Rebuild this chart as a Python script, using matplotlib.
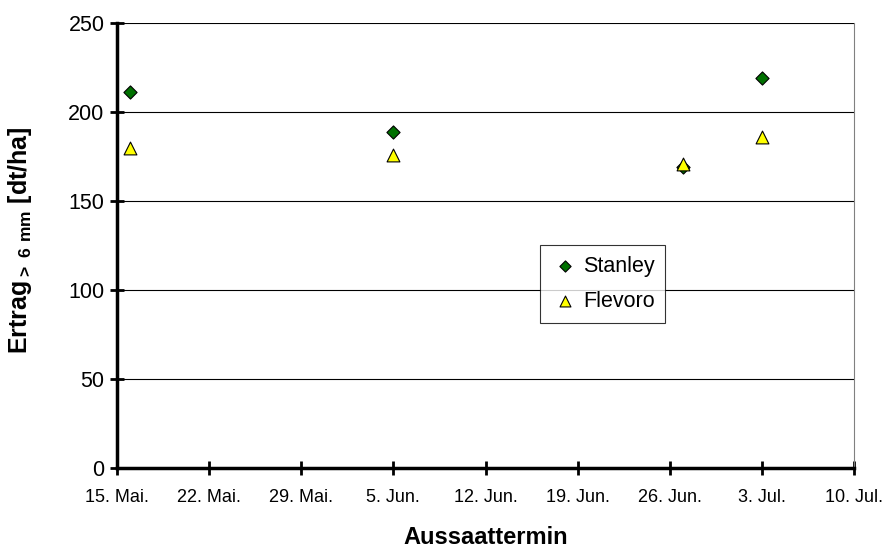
import matplotlib
matplotlib.use("Agg")
import matplotlib.pyplot as plt
import matplotlib.dates as mdates
import numpy as np

plt.rcParams['font.family'] = ['Liberation Sans', 'DejaVu Sans']
plt.rcParams['mathtext.fontset'] = 'custom'
plt.rcParams['mathtext.rm'] = 'Liberation Sans'
plt.rcParams['mathtext.bf'] = 'Liberation Sans:bold'

dates = ["2000-05-16", "2000-06-05", "2000-06-27", "2000-07-03"]
stanley = [211, 189, 169, 219]
flevoro = [180, 176, 171, 186]
tick_dates = ["2000-05-15", "2000-05-22", "2000-05-29", "2000-06-05", "2000-06-12",
              "2000-06-19", "2000-06-26", "2000-07-03", "2000-07-10"]
tick_labels = ["15. Mai.", "22. Mai.", "29. Mai.", "5. Jun.", "12. Jun.",
               "19. Jun.", "26. Jun.", "3. Jul.", "10. Jul."]
yticks = [0, 50, 100, 150, 200, 250]

x = mdates.date2num(np.array(dates, dtype="datetime64[D]"))
xt = mdates.date2num(np.array(tick_dates, dtype="datetime64[D]"))

fig = plt.figure(figsize=(8.88, 5.5), dpi=100)
ax = fig.add_axes([117/888, 1-468/550, (854-117)/888, (468-23)/550])

ax.scatter(x, stanley, marker='D', s=45, color='#007000', edgecolor='black', linewidth=0.8,
           label='Stanley', zorder=3)
ax.scatter(x, flevoro, marker='^', s=85, color='#ffff00', edgecolor='black', linewidth=0.8,
           label='Flevoro', zorder=4)

ax.set_xlim(xt[0], xt[-1])
ax.set_ylim(0, 250)
ax.set_xticks(xt)
ax.set_xticklabels(tick_labels, fontsize=13)
ax.set_yticks(yticks)
ax.set_yticklabels([str(v) for v in yticks], fontsize=15.5)
ax.yaxis.grid(True, color='black', linewidth=0.8)
ax.set_axisbelow(True)

ax.spines['right'].set_color('#808080')
ax.spines['right'].set_linewidth(0.8)
ax.spines['top'].set_visible(False)
for s in ['left', 'bottom']:
    ax.spines[s].set_linewidth(2.5)
    ax.spines[s].set_color('black')
ax.tick_params(axis='both', direction='inout', length=10, width=2, color='black')
ax.tick_params(axis='x', pad=10)
ax.tick_params(axis='y', pad=4)

ax.set_xlabel('Aussaattermin', fontsize=17, fontweight='bold')
ax.xaxis.set_label_coords(0.5, -0.13)
ax.set_ylabel(r'Ertrag$_{\mathbf{>\ 6\ mm}}$ [dt/ha]', fontsize=18, fontweight='bold')
ax.yaxis.set_label_coords(-0.112, 0.512)

leg = ax.legend(loc='upper left', bbox_to_anchor=((540-117)/737, (468-245)/445),
                fontsize=15.5, frameon=True, fancybox=False, edgecolor='black',
                handletextpad=0.2, borderpad=0.5, labelspacing=0.65, handlelength=1.3,
                markerscale=0.85, borderaxespad=0)
leg.get_frame().set_linewidth(0.8)

fig.savefig('out.png', dpi=100)
